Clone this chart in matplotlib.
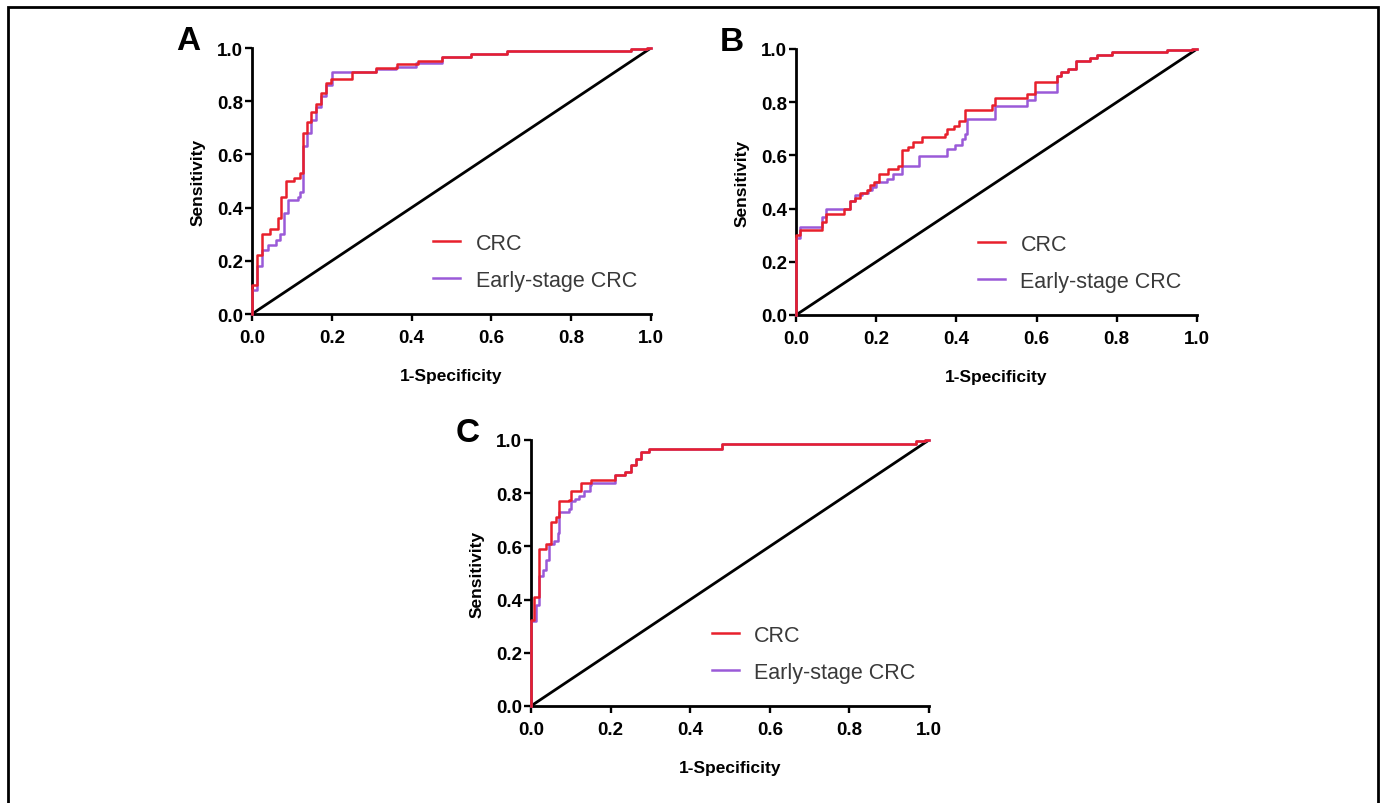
"""
ROC curves for CRC vs early-stage CRC, three panels (A, B, C).
"""

import matplotlib
matplotlib.use("Agg")
import matplotlib.pyplot as plt
from matplotlib.patches import Rectangle

plt.rcParams["font.family"] = ["Liberation Sans", "DejaVu Sans"]

RED = "#e8202c"
PURPLE = "#9a5ad8"

LABELS = ["CRC", "Early-stage CRC"]

# Panel A  (fpr = 1-specificity, tpr = sensitivity), step points
A_CRC_FPR = [0, 0, 0.013, 0.024, 0.046, 0.065, 0.073, 0.086, 0.105, 0.120, 0.127,
             0.137, 0.148, 0.160, 0.173, 0.186, 0.198, 0.250, 0.310, 0.363, 0.416,
             0.475, 0.550, 0.640, 0.950, 0.990, 1.0]
A_CRC_TPR = [0, 0.11, 0.22, 0.30, 0.32, 0.36, 0.44, 0.50, 0.51, 0.53, 0.68,
             0.72, 0.76, 0.79, 0.83, 0.87, 0.885, 0.91, 0.925, 0.94, 0.952,
             0.965, 0.977, 0.988, 0.996, 1.0, 1.0]
A_EARLY_FPR = [0, 0, 0.013, 0.024, 0.040, 0.060, 0.070, 0.080, 0.090, 0.115, 0.120,
               0.128, 0.137, 0.148, 0.160, 0.173, 0.186, 0.200, 0.310, 0.360, 0.410,
               0.475, 0.550, 0.640, 0.950, 0.990, 1.0]
A_EARLY_TPR = [0, 0.09, 0.18, 0.24, 0.26, 0.28, 0.30, 0.38, 0.43, 0.44, 0.46,
               0.63, 0.68, 0.73, 0.78, 0.82, 0.86, 0.91, 0.92, 0.93, 0.945,
               0.965, 0.977, 0.988, 0.996, 1.0, 1.0]

# Panel B
B_CRC_FPR = [0, 0, 0.010, 0.065, 0.075, 0.120, 0.135, 0.148, 0.160, 0.177, 0.185,
             0.194, 0.206, 0.230, 0.255, 0.264, 0.280, 0.293, 0.314, 0.372, 0.377,
             0.393, 0.406, 0.422, 0.490, 0.497, 0.575, 0.596, 0.650, 0.662, 0.678,
             0.698, 0.733, 0.750, 0.787, 0.925, 0.987, 1.0]
B_CRC_TPR = [0, 0.30, 0.32, 0.35, 0.38, 0.40, 0.43, 0.44, 0.46, 0.47, 0.49,
             0.50, 0.53, 0.55, 0.56, 0.62, 0.63, 0.65, 0.67, 0.68, 0.70,
             0.71, 0.73, 0.77, 0.79, 0.815, 0.83, 0.875, 0.90, 0.912, 0.925,
             0.956, 0.968, 0.977, 0.99, 0.995, 1.0, 1.0]
B_EARLY_FPR = [0, 0, 0.010, 0.065, 0.075, 0.135, 0.148, 0.165, 0.180, 0.190, 0.200,
               0.227, 0.243, 0.264, 0.306, 0.377, 0.397, 0.414, 0.422, 0.426, 0.496,
               0.575, 0.596, 0.650, 0.662, 0.678, 0.698, 0.733, 0.750, 0.787, 0.925,
               0.987, 1.0]
B_EARLY_TPR = [0, 0.29, 0.33, 0.37, 0.40, 0.43, 0.45, 0.46, 0.47, 0.48, 0.50,
               0.51, 0.53, 0.56, 0.597, 0.625, 0.64, 0.66, 0.68, 0.737, 0.787,
               0.81, 0.84, 0.90, 0.912, 0.925, 0.956, 0.968, 0.977, 0.99, 0.995,
               1.0, 1.0]

# Panel C
C_CRC_FPR = [0, 0, 0.008, 0.021, 0.038, 0.049, 0.063, 0.071, 0.096, 0.100, 0.126,
             0.150, 0.210, 0.235, 0.250, 0.264, 0.276, 0.297, 0.480, 0.967, 0.990, 1.0]
C_CRC_TPR = [0, 0.325, 0.41, 0.59, 0.61, 0.69, 0.71, 0.77, 0.775, 0.81, 0.84,
             0.85, 0.87, 0.88, 0.906, 0.93, 0.956, 0.965, 0.985, 0.995, 1.0, 1.0]
C_EARLY_FPR = [0, 0, 0.013, 0.021, 0.029, 0.038, 0.046, 0.059, 0.067, 0.071, 0.096,
               0.100, 0.110, 0.121, 0.134, 0.147, 0.150, 0.210, 0.235, 0.250, 0.264,
               0.276, 0.297, 0.480, 0.967, 0.990, 1.0]
C_EARLY_TPR = [0, 0.32, 0.38, 0.49, 0.51, 0.55, 0.61, 0.62, 0.65, 0.73, 0.74,
               0.77, 0.78, 0.79, 0.81, 0.83, 0.84, 0.87, 0.88, 0.906, 0.93,
               0.956, 0.965, 0.985, 0.995, 1.0, 1.0]

TICKS = [0.0, 0.2, 0.4, 0.6, 0.8, 1.0]
TICK_LABELS = ["0.0", "0.2", "0.4", "0.6", "0.8", "1.0"]

W, H = 1383, 804


def px_axes(fig, left, right, top, bottom):
    """Add axes from pixel box (top-left origin)."""
    return fig.add_axes([left / W, 1 - bottom / H, (right - left) / W, (bottom - top) / H])


def draw_roc(ax, crc, early, letter):
    ax.plot(early[0], early[1], drawstyle="steps-post", color=PURPLE, lw=1.8,
            label=LABELS[1], clip_on=False, zorder=3)
    ax.plot(crc[0], crc[1], drawstyle="steps-post", color=RED, lw=1.8,
            label=LABELS[0], clip_on=False, zorder=4)
    ax.plot([0, 1], [0, 1], color="black", lw=2.0, zorder=2)

    ax.set_xlim(0, 1)
    ax.set_ylim(0, 1)
    ax.set_xticks(TICKS)
    ax.set_xticklabels(TICK_LABELS)
    ax.set_yticks(TICKS)
    ax.set_yticklabels(TICK_LABELS)
    for side in ["top", "right"]:
        ax.spines[side].set_visible(False)
    for side in ["left", "bottom"]:
        ax.spines[side].set_linewidth(2.0)
    ax.tick_params(direction="out", length=5, width=1.7, labelsize=13.5)
    ax.tick_params(axis="x", pad=6)
    ax.tick_params(axis="y", pad=1.5)
    for lab in ax.get_xticklabels() + ax.get_yticklabels():
        lab.set_fontweight("bold")

    ax.set_xlabel("1-Specificity", fontsize=12.5, fontweight="bold", labelpad=16)
    ax.set_ylabel("Sensitivity", fontsize=12.5, fontweight="bold", labelpad=8)

    handles, labels = ax.get_legend_handles_labels()
    leg = ax.legend(handles[::-1], labels[::-1], loc="center left",
                    bbox_to_anchor=(0.454, 0.197), frameon=False, fontsize=15.5,
                    handlelength=1.25, handletextpad=0.72, labelspacing=0.75,
                    borderpad=0, borderaxespad=0)
    for t in leg.get_texts():
        t.set_color("#3a3a3a")

    ax.text(-0.16, 1.03, letter, transform=ax.transAxes, fontsize=24,
            fontweight="bold", ha="center", va="center")


def main():
    fig = plt.figure(figsize=(W / 100, H / 100), dpi=100)

    ax_a = px_axes(fig, 252, 651, 49, 315)
    ax_b = px_axes(fig, 796, 1197, 50, 316)
    ax_c = px_axes(fig, 531, 929, 441, 707)

    draw_roc(ax_a, (A_CRC_FPR, A_CRC_TPR), (A_EARLY_FPR, A_EARLY_TPR), "A")
    draw_roc(ax_b, (B_CRC_FPR, B_CRC_TPR), (B_EARLY_FPR, B_EARLY_TPR), "B")
    draw_roc(ax_c, (C_CRC_FPR, C_CRC_TPR), (C_EARLY_FPR, C_EARLY_TPR), "C")

    # outer frame, open at the bottom edge of the image
    fig.add_artist(Rectangle((8 / W, -0.1), (1378 - 8) / W, 1 - 8 / H + 0.1,
                             transform=fig.transFigure, fill=False,
                             edgecolor="black", lw=2.0))

    fig.savefig("out.png", dpi=100)


if __name__ == "__main__":
    main()
